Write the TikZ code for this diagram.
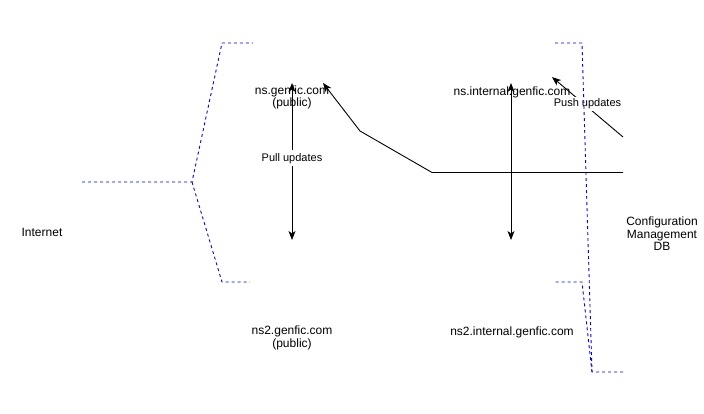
\documentclass[tikz,border=0pt]{standalone}
\usepackage{fontspec}
\setmainfont{Liberation Sans}
\usetikzlibrary{arrows.meta}
\begin{document}
\begin{tikzpicture}[x=1pt,y=-1pt,
  lbl/.style={font=\fontsize{12}{12.5}\selectfont, align=center, inner sep=1pt},
  elbl/.style={font=\fontsize{11}{12}\selectfont, align=center, fill=white, inner sep=1.5pt},
  tip/.tip={Stealth[length=9pt,width=7pt,inset=2.5pt]},
  conn/.style={line width=0.9pt, -tip},
  twoway/.style={line width=0.9pt, tip-tip},
  bracket/.style={blue, line width=0.9pt, dash pattern=on 3pt off 3pt}]
\useasboundingbox (0,0) rectangle (704,414);
% texts
\node[lbl] (ns1) at (292,97.5) {ns.genfic.com\\(public)};
\node[lbl] (ns2) at (292,338) {ns2.genfic.com\\(public)};
\node[lbl] (int1) at (512,92) {ns.internal.genfic.com};
\node[lbl] (int2) at (512,332) {ns2.internal.genfic.com};
\node[lbl] (inet) at (42,232) {Internet};
\node[lbl] (cmdb) at (662,234) {Configuration\\Management\\DB};
% coordinates
\coordinate (p1t) at (292,83);
\coordinate (p1b) at (292,240);
\coordinate (p2t) at (511,83);
\coordinate (p2b) at (511,240);
\coordinate (pushs) at (623,137);
\coordinate (pusht) at (552,77);
\coordinate (db) at (623,172.5);
\coordinate (b1) at (432,172.5);
\coordinate (b2) at (360,131);
\coordinate (pullt) at (323,83);
% connectors
\draw[twoway] (p1b) -- node[elbl, pos=0.52, inner sep=3pt] (pull) {Pull updates} (p1t);
\draw[twoway] (p2b) -- (p2t);
\draw[conn] (pushs) -- node[elbl, pos=0.5, yshift=3pt] (push) {Push updates} (pusht);
\draw[conn] (db) -- (b1) -- (b2) -- (pullt);
% brackets
\coordinate (lj) at (192,182);
\coordinate (rj) at (592,372);
\draw[bracket] (82,182) -- (lj) -- (222,43) -- (253,43);
\draw[bracket] (lj) -- (222,282) -- (250,282);
\draw[bracket] (623,372) -- (rj) -- (582,43) -- (553,43);
\draw[bracket] (rj) -- (582,282) -- (553,282);
\end{tikzpicture}
\end{document}
